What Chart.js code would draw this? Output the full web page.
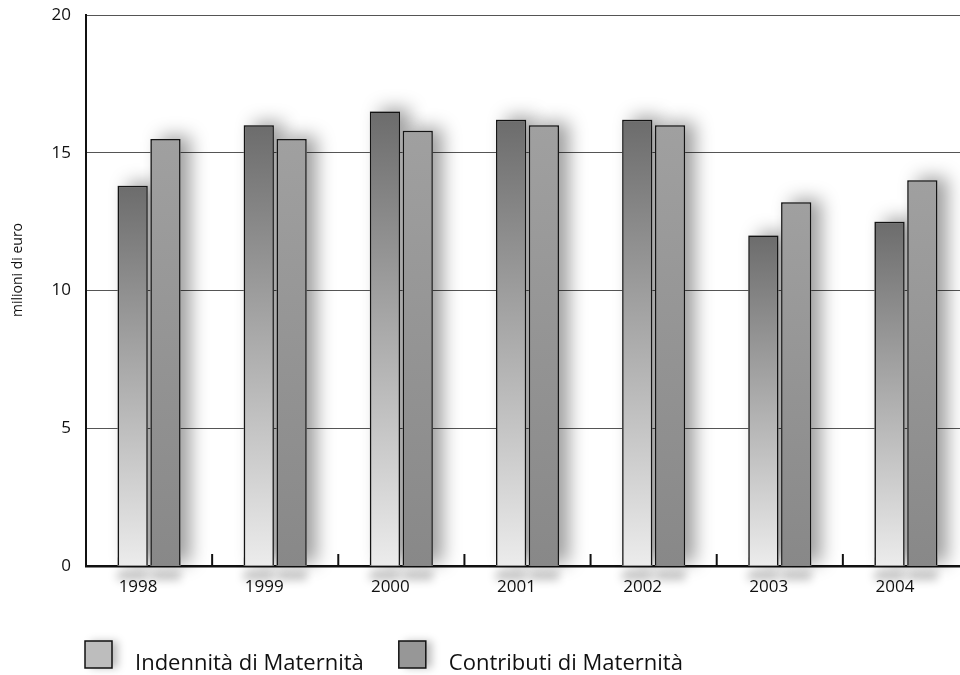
<!DOCTYPE html>
<html>
<head>
<meta charset="utf-8">
<script src="https://cdn.jsdelivr.net/npm/chart.js@4/dist/chart.umd.min.js"></script>
<style>
  html, body { margin: 0; padding: 0; background: #fff; overflow: hidden; }
  #wrap { position: absolute; left: 0; top: 0; width: 969px; height: 675px; }
</style>
</head>
<body>
<div id="wrap"><canvas id="c" width="969" height="675"></canvas></div>
<script>
const years = ['1998', '1999', '2000', '2001', '2002', '2003', '2004'];
const indennita = [13.8, 16.0, 16.5, 16.2, 16.2, 12.0, 12.5];
const contributi = [15.5, 15.5, 15.8, 16.0, 16.0, 13.2, 14.0];
const seriesNames = ['Indennità di Maternità', 'Contributi di Maternità'];
const yTicks = [0, 5, 10, 15, 20];
const yTitle = 'milioni di euro';

const FONT = '"Open Sans", "Noto Sans", sans-serif';

function barGradient(ctx, topColor, bottomColor, fallback) {
  const chart = ctx.chart;
  const y = chart.scales && chart.scales.y;
  if (!y || !chart.chartArea || ctx.raw === undefined) return fallback;
  const top = y.getPixelForValue(ctx.raw);
  const bottom = y.getPixelForValue(0);
  if (!isFinite(top) || !isFinite(bottom) || top === bottom) return fallback;
  const g = chart.ctx.createLinearGradient(0, top, 0, bottom);
  g.addColorStop(0, topColor);
  g.addColorStop(1, bottomColor);
  return g;
}

const shadowPlugin = {
  id: 'barShadow',
  beforeDatasetsDraw(chart) {
    const c = chart.ctx;
    c.save();
    chart.data.datasets.forEach((ds, di) => {
      const meta = chart.getDatasetMeta(di);
      meta.data.forEach((bar) => {
        const p = bar.getProps(['x', 'y', 'width', 'base'], true);
        const left = p.x - p.width / 2;
        c.save();
        c.shadowColor = 'rgba(0,0,0,0.38)';
        c.shadowBlur = 18;
        c.shadowOffsetX = 10;
        c.shadowOffsetY = -3;
        c.fillStyle = '#aaa';
        c.fillRect(left, p.y, p.width, p.base - p.y);
        c.restore();
        // soft shadow below the base
        c.save();
        c.shadowColor = 'rgba(0,0,0,0.28)';
        c.shadowBlur = 10;
        c.shadowOffsetX = 0;
        c.shadowOffsetY = 14;
        c.fillStyle = '#aaa';
        c.fillRect(left, p.base - 8, p.width, 8);
        c.restore();
      });
    });
    c.restore();
  }
};

const decorPlugin = {
  id: 'decor',
  afterDraw(chart) {
    const c = chart.ctx;
    const x = chart.scales.x;
    const area = chart.chartArea;
    // upward tick marks between categories
    c.save();
    c.strokeStyle = '#111';
    c.lineWidth = 2;
    for (let i = 1; i < years.length; i++) {
      const px = (x.getPixelForTick(i - 1) + x.getPixelForTick(i)) / 2;
      c.beginPath();
      c.moveTo(px, area.bottom);
      c.lineTo(px, area.bottom - 12);
      c.stroke();
    }
    c.restore();

    // y axis title
    c.save();
    c.fillStyle = '#111';
    c.font = '14px ' + FONT;
    c.textAlign = 'center';
    c.textBaseline = 'middle';
    c.translate(18, 270);
    c.rotate(-Math.PI / 2);
    c.fillText(yTitle, 0, 0);
    c.restore();

    // legend
    c.save();
    c.font = '22px ' + FONT;
    c.textBaseline = 'alphabetic';
    const fills = ['#bdbdbd', '#979797'];
    let lx = 85;
    const ly = 641, bs = 27;
    chart.data.datasets.forEach((ds, i) => {
      c.save();
      c.shadowColor = 'rgba(0,0,0,0.25)';
      c.shadowBlur = 8;
      c.shadowOffsetX = 6;
      c.fillStyle = fills[i];
      c.fillRect(lx, ly, bs, bs);
      c.restore();
      c.strokeStyle = '#111';
      c.lineWidth = 1.5;
      c.strokeRect(lx, ly, bs, bs);
      c.fillStyle = '#111';
      const tx = lx + bs + 23;
      c.fillText(ds.label, tx, 670);
      lx = tx + c.measureText(ds.label).width + 35;
    });
    c.restore();
  }
};

new Chart(document.getElementById('c'), {
  type: 'bar',
  data: {
    labels: years,
    datasets: [
      {
        label: seriesNames[0],
        data: indennita,
        backgroundColor: (ctx) => barGradient(ctx, '#6c6c6c', '#ececec', '#aaaaaa'),
        borderColor: '#141414',
        borderWidth: 1.5,
        barPercentage: 0.92,
        categoryPercentage: 0.52
      },
      {
        label: seriesNames[1],
        data: contributi,
        backgroundColor: (ctx) => barGradient(ctx, '#a0a0a0', '#888888', '#979797'),
        borderColor: '#141414',
        borderWidth: 1.5,
        barPercentage: 0.92,
        categoryPercentage: 0.52
      }
    ]
  },
  options: {
    responsive: false,
    animation: false,
    layout: { padding: { top: 15, right: 0, left: 0, bottom: 0 } },
    plugins: {
      legend: { display: false },
      tooltip: { enabled: false }
    },
    scales: {
      x: {
        grid: { display: false, drawTicks: false },
        border: { display: true, color: '#111', width: 2.5 },
        ticks: {
          color: '#111',
          font: { family: FONT, size: 17 },
          padding: 11,
          labelOffset: -11,
          maxRotation: 0
        },
        afterFit(scale) { scale.height = 109; scale.paddingLeft = 0; scale.paddingRight = 0; }
      },
      y: {
        min: 0,
        max: 20,
        afterBuildTicks(scale) { scale.ticks = yTicks.map(v => ({ value: v })); },
        grid: { color: '#555', lineWidth: 1, drawTicks: false },
        border: { display: true, color: '#111', width: 2 },
        ticks: {
          color: '#111',
          font: { family: FONT, size: 17 },
          padding: 15
        },
        afterFit(scale) { scale.width = 86; scale.paddingTop = 0; scale.paddingBottom = 0; }
      }
    }
  },
  plugins: [shadowPlugin, decorPlugin]
});
</script>
</body>
</html>
